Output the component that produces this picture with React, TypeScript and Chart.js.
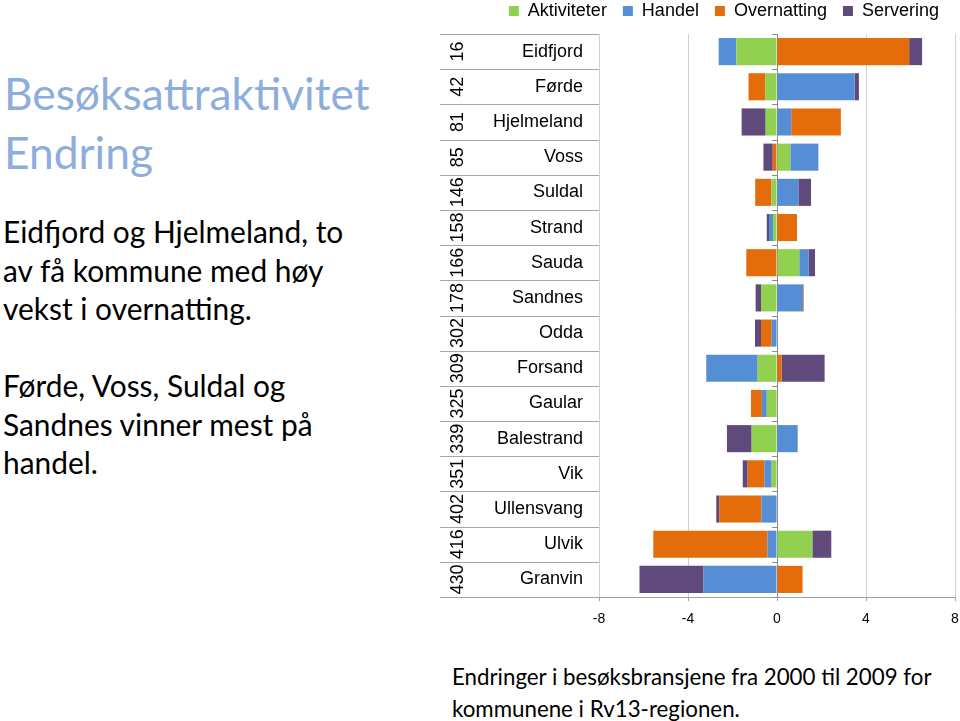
import React, { useEffect, useRef } from 'react';
import { Chart, registerables } from 'chart.js';

Chart.register(...registerables);

const categories = ['Eidfjord', 'Førde', 'Hjelmeland', 'Voss', 'Suldal', 'Strand', 'Sauda', 'Sandnes', 'Odda', 'Forsand', 'Gaular', 'Balestrand', 'Vik', 'Ullensvang', 'Ulvik', 'Granvin'];
const ranks = ['16', '42', '81', '85', '146', '158', '166', '178', '302', '309', '325', '339', '351', '402', '416', '430'];

const aktiviteter = [-1.83, -0.52, -0.51, 0.6, -0.25, -0.18, 1.0, -0.72, 0, -0.87, -0.46, -1.14, -0.24, 0, 1.59, 0];
const handel = [-0.79, 3.49, 0.64, 1.26, 0.96, -0.18, 0.43, 1.17, -0.24, -2.31, -0.22, 0.93, -0.33, -0.7, -0.43, -3.3];
const overnatting = [5.94, -0.76, 2.23, -0.19, -0.73, 0.9, -1.38, 0.03, -0.48, 0.21, -0.49, 0, -0.75, -1.9, -5.13, 1.15];
const servering = [0.58, 0.19, -1.08, -0.42, 0.57, -0.1, 0.28, -0.24, -0.27, 1.93, 0, -1.11, -0.22, -0.13, 0.85, -2.88];

const seriesNames = ['Aktiviteter', 'Handel', 'Overnatting', 'Servering'];
const seriesColors = ['#92D050', '#558ED5', '#E46C0A', '#604A7B'];
const xMin = -8;
const xMax = 8;
const xStep = 4;

const CANVAS_TOP = -14;
const CANVAS_W = 969;
const CANVAS_H = 721 - CANVAS_TOP;
const TABLE_LEFT = 440;
const LABEL_FONT = '18px "Liberation Sans", Arial, sans-serif';

const tablePlugin = {
  id: 'rowTable',
  afterDraw(chart: any) {
    const { ctx, chartArea } = chart;
    const y = chart.scales.y;
    const x = chart.scales.x;
    const n = categories.length;
    const step = y.getPixelForValue(1) - y.getPixelForValue(0);
    const x0 = x.getPixelForValue(0);
    ctx.save();
    ctx.lineWidth = 1;
    ctx.strokeStyle = '#A6A6A6';
    for (let i = 0; i <= n; i++) {
      const yy = Math.round(y.getPixelForValue(i) - step / 2) + 0.5;
      ctx.beginPath();
      ctx.moveTo(TABLE_LEFT, yy);
      ctx.lineTo(chartArea.left, yy);
      ctx.stroke();
    }
    ctx.strokeStyle = '#8C8C8C';
    for (let i = 0; i <= n; i++) {
      const yy = Math.round(y.getPixelForValue(i) - step / 2) + 0.5;
      ctx.beginPath();
      ctx.moveTo(Math.round(x0) - 5, yy);
      ctx.lineTo(Math.round(x0), yy);
      ctx.stroke();
    }
    ctx.fillStyle = '#000';
    ctx.font = LABEL_FONT;
    ctx.textBaseline = 'middle';
    for (let i = 0; i < n; i++) {
      const cy = y.getPixelForValue(i);
      ctx.textAlign = 'right';
      ctx.fillText(categories[i], 583, cy);
      ctx.save();
      ctx.translate(458, cy);
      ctx.rotate(-Math.PI / 2);
      ctx.textAlign = 'center';
      ctx.fillText(ranks[i], 0, 0);
      ctx.restore();
    }
    ctx.restore();
  },
};

export default function App() {
  const canvasRef = useRef<HTMLCanvasElement | null>(null);

  useEffect(() => {
    const canvas = canvasRef.current;
    if (!canvas) return;
    const data = [aktiviteter, handel, overnatting, servering];
    const chart = new Chart(canvas, {
      type: 'bar',
      data: {
        labels: categories,
        datasets: seriesNames.map((name, i) => ({
          label: name,
          data: data[i],
          backgroundColor: seriesColors[i],
          borderWidth: 0,
          barPercentage: 0.77,
          categoryPercentage: 1,
        })),
      },
      options: {
        indexAxis: 'y',
        responsive: false,
        maintainAspectRatio: false,
        animation: false,
        devicePixelRatio: 1,
        layout: { padding: { left: TABLE_LEFT, right: 14, top: 0, bottom: 94 } },
        plugins: {
          legend: {
            position: 'top',
            align: 'end',
            labels: {
              boxWidth: 10,
              boxHeight: 10,
              padding: 16,
              color: '#000',
              font: { family: '"Liberation Sans", Arial, sans-serif', size: 18 },
            },
          },
          subtitle: {
            display: true,
            text: '',
            position: 'top',
            weight: 500,
            font: { size: 1, lineHeight: 1 },
            padding: { top: 3, bottom: 0 },
          },
          tooltip: { enabled: false },
        },
        scales: {
          x: {
            type: 'linear',
            stacked: true,
            min: xMin,
            max: xMax,
            ticks: {
              stepSize: xStep,
              color: '#000',
              padding: 10,
              font: { family: '"Liberation Sans", Arial, sans-serif', size: 14 },
            },
            grid: {
              color: (c: any) => (c.tick && c.tick.value === 0 ? '#8C8C8C' : '#CBD3DD'),
              tickColor: '#A0A0A0',
              tickLength: 4,
            },
            border: { display: true, color: '#A0A0A0' },
            afterFit: (s: any) => {
              s.height = 30;
            },
          },
          y: {
            type: 'category',
            stacked: true,
            ticks: { display: false },
            grid: { display: false },
            border: { display: false },
            afterFit: (s: any) => {
              s.width = 159;
            },
          },
        },
      },
      plugins: [tablePlugin],
    });
    return () => chart.destroy();
  }, []);

  const textFont = 'Lato, "Open Sans", sans-serif';

  return (
    <div style={{ position: 'absolute', left: 0, top: 0, width: 960, height: 721, overflow: 'hidden', background: '#fff' }}>
      <div style={{ position: 'absolute', left: 4, top: 63, fontFamily: textFont, fontSize: 44.3, lineHeight: '59px', color: '#8DAEDC', whiteSpace: 'nowrap' }}>
        Besøksattraktivitet
        <br />
        Endring
      </div>
      <div style={{ position: 'absolute', left: 3, top: 212, fontFamily: textFont, fontSize: 29.9, lineHeight: '38.5px', color: '#000', whiteSpace: 'nowrap' }}>
        Eidfjord og Hjelmeland, to
        <br />
        av få kommune med høy
        <br />
        vekst i overnatting.
        <br />
        <br />
        Førde, Voss, Suldal og
        <br />
        Sandnes vinner mest på
        <br />
        handel.
      </div>
      <div style={{ position: 'absolute', left: 452, top: 661, fontFamily: textFont, fontSize: 22.3, lineHeight: '32px', color: '#000', whiteSpace: 'nowrap' }}>
        Endringer i besøksbransjene fra 2000 til 2009 for
        <br />
        kommunene i Rv13-regionen.
      </div>
      <canvas
        ref={canvasRef}
        width={CANVAS_W}
        height={CANVAS_H}
        style={{ position: 'absolute', left: 0, top: CANVAS_TOP, width: CANVAS_W, height: CANVAS_H }}
      />
    </div>
  );
}
